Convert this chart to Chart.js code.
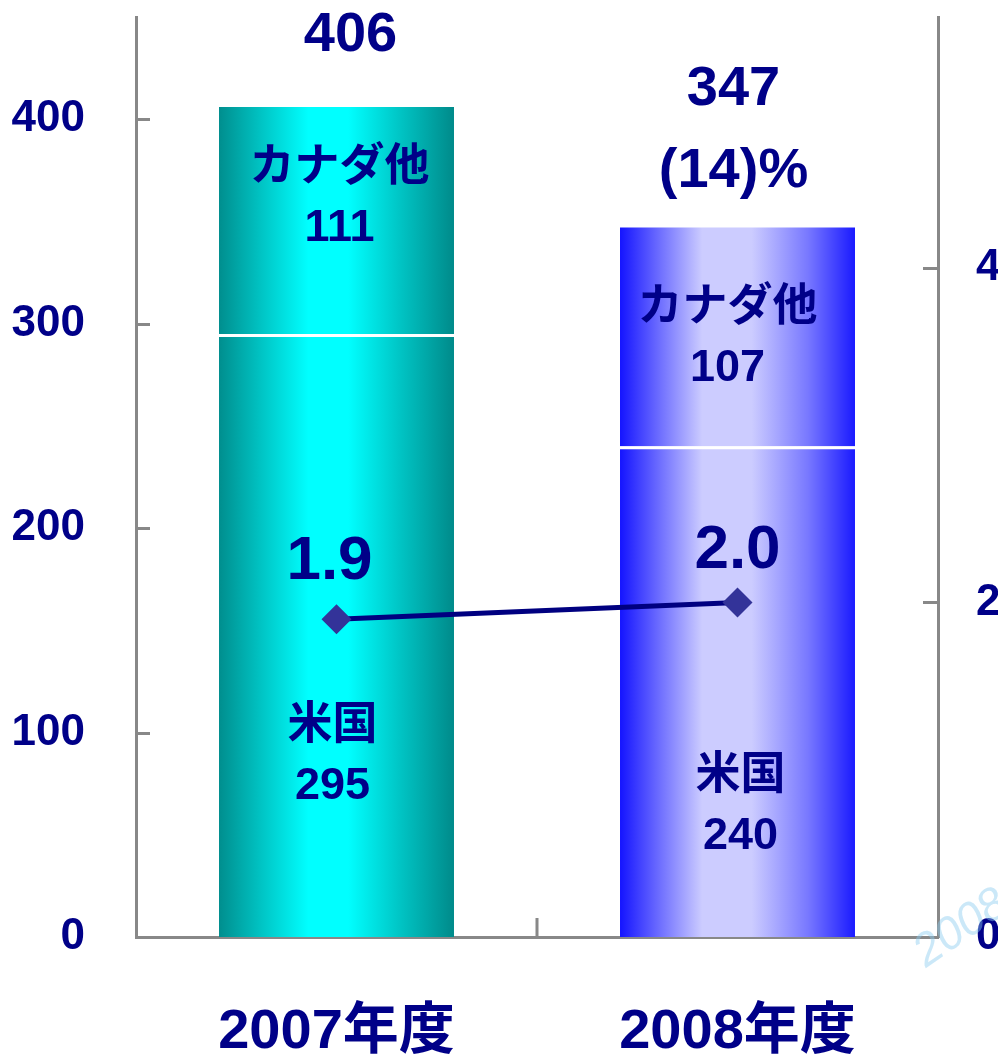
<!DOCTYPE html>
<html lang="ja">
<head>
<meta charset="utf-8">
<title>地域別</title>
<script src="https://cdn.jsdelivr.net/npm/chart.js@4/dist/chart.umd.min.js"></script>
<style>
  html, body { margin: 0; padding: 0; background: #ffffff; }
  #wrap { width: 998px; height: 1055px; position: relative; }
</style>
</head>
<body>
<div id="wrap"><canvas id="regionChart"></canvas></div>
<script>
// 年度ラベル
const years = ['2007年度', '2008年度'];
// 地域別内訳
const usValues = [295, 240];
const canadaValues = [111, 107];
// 合計と前年比
const totalValues = [406, 347];
const changeLabels = ['', '(14)%'];
// 右軸の折れ線
const ratioValues = [1.9, 2.0];
// 目盛
const leftTicks = [0, 100, 200, 300, 400];
const rightTicks = [0, 2, 4];

const NAVY = '#000088';
const AXIS_GREY = '#888888';
const FONT = '"Liberation Sans", Arial, "Noto Sans CJK JP", sans-serif';
const BAR_PCT = 0.586;

// 列ごとのグラデーション（左端 → 中央 → 右端）
const columnStops = [
    [[0, '#008e8e'], [0.18, '#00c4c4'], [0.38, '#00ffff'], [0.55, '#00ffff'], [0.78, '#00c2c2'], [1, '#008a8a']],
    [[0, '#1414ff'], [0.15, '#6464ff'], [0.35, '#ccccff'], [0.56, '#ccccff'], [0.8, '#7878ff'], [1, '#1a1aff']]
];

function columnGradient(context) {
    const chart = context.chart;
    const xs = chart.scales.x;
    const stops = columnStops[context.dataIndex] || columnStops[0];
    if (!chart.chartArea || !xs) return stops[2][1];
    const cx = xs.getPixelForValue(context.dataIndex);
    const half = (xs.width / years.length) * BAR_PCT / 2;
    const g = chart.ctx.createLinearGradient(cx - half, 0, cx + half, 0);
    stops.forEach(s => g.addColorStop(s[0], s[1]));
    return g;
}

// ラベル配置（区間中央・棒上端・点からのずれ）
const segmentLayout = {
    canada: [{ dx: 3, dy: -22 }, { dx: -10, dy: 2 }],
    us: [{ dx: -4, dy: 121 }, { dx: 3, dy: 115 }]
};
const totalLayout = [{ dx: 14, gap: 71 }, { dx: -4, gap: 56 }];
const ratioLayout = [{ dx: -7, dy: -57 }, { dx: 0, dy: -52 }];

const annotate = {
    id: 'annotate',
    afterDatasetsDraw(chart) {
        const ctx = chart.ctx;
        const xs = chart.scales.x;
        const ys = chart.scales.y;
        const y1 = chart.scales.y1;
        ctx.save();
        ctx.fillStyle = NAVY;
        ctx.textAlign = 'center';
        ctx.textBaseline = 'middle';

        years.forEach((yr, i) => {
            const cx = xs.getPixelForValue(i);
            const yZero = ys.getPixelForValue(0);
            const yUs = ys.getPixelForValue(usValues[i]);
            const yTop = ys.getPixelForValue(usValues[i] + canadaValues[i]);

            ctx.font = 'bold 45px ' + FONT;
            const us = segmentLayout.us[i];
            const usMid = (yZero + yUs) / 2 + us.dy;
            ctx.fillText('米国', cx + us.dx, usMid - 30);
            ctx.fillText(String(usValues[i]), cx + us.dx, usMid + 30);

            const ca = segmentLayout.canada[i];
            const caMid = (yUs + yTop) / 2 + ca.dy;
            ctx.fillText('カナダ他', cx + ca.dx, caMid - 30);
            ctx.fillText(String(canadaValues[i]), cx + ca.dx, caMid + 30);

            // 合計と増減率
            ctx.font = 'bold 56px ' + FONT;
            const lines = [String(totalValues[i])];
            if (changeLabels[i]) lines.push(changeLabels[i]);
            const tl = totalLayout[i];
            lines.slice().reverse().forEach((t, k) => {
                ctx.fillText(t, cx + tl.dx, yTop - tl.gap - k * 82);
            });

            // 折れ線の値
            ctx.font = 'bold 62px ' + FONT;
            const rl = ratioLayout[i];
            const py = y1.getPixelForValue(ratioValues[i]);
            ctx.fillText(ratioValues[i].toFixed(1), cx + rl.dx, py + rl.dy);
        });
        ctx.restore();
    },
    afterDraw(chart) {
        const ctx = chart.ctx;
        const xs = chart.scales.x;
        const ys = chart.scales.y;
        const y1 = chart.scales.y1;
        const area = chart.chartArea;
        ctx.save();
        ctx.strokeStyle = AXIS_GREY;
        ctx.lineWidth = 3;
        ctx.beginPath();
        // 内向きの目盛線
        leftTicks.forEach(v => {
            const y = Math.round(ys.getPixelForValue(v)) + 0.5;
            ctx.moveTo(area.left, y);
            ctx.lineTo(area.left + 14, y);
        });
        rightTicks.forEach(v => {
            const y = Math.round(y1.getPixelForValue(v)) + 0.5;
            ctx.moveTo(area.right, y);
            ctx.lineTo(area.right - 15, y);
        });
        const mid = (xs.getPixelForValue(0) + xs.getPixelForValue(1)) / 2;
        ctx.moveTo(mid, area.bottom);
        ctx.lineTo(mid, area.bottom - 19);
        ctx.stroke();

        // 右下のスタンプ
        ctx.translate(926, 968);
        ctx.rotate(-0.6);
        ctx.fillStyle = 'rgba(140, 205, 240, 0.45)';
        ctx.font = 'italic 46px ' + FONT;
        ctx.textAlign = 'left';
        ctx.textBaseline = 'alphabetic';
        ctx.fillText('2008', 0, 0);
        ctx.restore();
    }
};

const tickFont = { family: FONT, size: 44, weight: 'bold' };

function fixVertical(width) {
    return function (scale) {
        scale.width = width;
        scale.paddingTop = 0;
        scale.paddingBottom = 0;
    };
}

new Chart(document.getElementById('regionChart'), {
    data: {
        labels: years,
        datasets: [
            {
                type: 'line',
                label: '比率',
                data: ratioValues,
                yAxisID: 'y1',
                order: 0,
                borderColor: '#000080',
                borderWidth: 5,
                pointStyle: 'rectRot',
                pointRadius: 15,
                pointBackgroundColor: '#333399',
                pointBorderColor: '#333399',
                pointBorderWidth: 0,
                tension: 0
            },
            {
                type: 'bar',
                label: '米国',
                data: usValues,
                yAxisID: 'y',
                order: 1,
                backgroundColor: columnGradient,
                borderColor: '#ffffff',
                borderWidth: { top: 3, right: 0, bottom: 0, left: 0 },
                borderSkipped: false,
                categoryPercentage: 1,
                barPercentage: BAR_PCT
            },
            {
                type: 'bar',
                label: 'カナダ他',
                data: canadaValues,
                yAxisID: 'y',
                order: 1,
                backgroundColor: columnGradient,
                borderWidth: 0,
                categoryPercentage: 1,
                barPercentage: BAR_PCT
            }
        ]
    },
    options: {
        responsive: true,
        maintainAspectRatio: false,
        animation: false,
        layout: { padding: { top: 17, left: 0, right: 0, bottom: 0 } },
        plugins: {
            legend: { display: false },
            tooltip: { enabled: false }
        },
        scales: {
            x: {
                stacked: true,
                offset: true,
                grid: { display: false },
                border: { display: true, color: AXIS_GREY, width: 3 },
                ticks: {
                    color: NAVY,
                    font: { family: FONT, size: 56, weight: 'bold' },
                    padding: 54,
                    maxRotation: 0
                },
                afterFit(scale) {
                    scale.height = 118;
                    scale.paddingLeft = 0;
                    scale.paddingRight = 0;
                }
            },
            y: {
                stacked: true,
                position: 'left',
                min: 0,
                max: 450,
                grid: { display: false },
                border: { display: true, color: AXIS_GREY, width: 3 },
                ticks: { color: NAVY, font: tickFont, padding: 43 },
                afterBuildTicks(scale) { scale.ticks = leftTicks.map(v => ({ value: v })); },
                afterFit: fixVertical(136)
            },
            y1: {
                position: 'right',
                min: 0,
                max: 5.5,
                grid: { display: false },
                border: { display: true, color: AXIS_GREY, width: 3 },
                ticks: { color: NAVY, font: tickFont, padding: 30 },
                afterBuildTicks(scale) { scale.ticks = rightTicks.map(v => ({ value: v })); },
                afterFit: fixVertical(60)
            }
        }
    },
    plugins: [annotate]
});
</script>
</body>
</html>
